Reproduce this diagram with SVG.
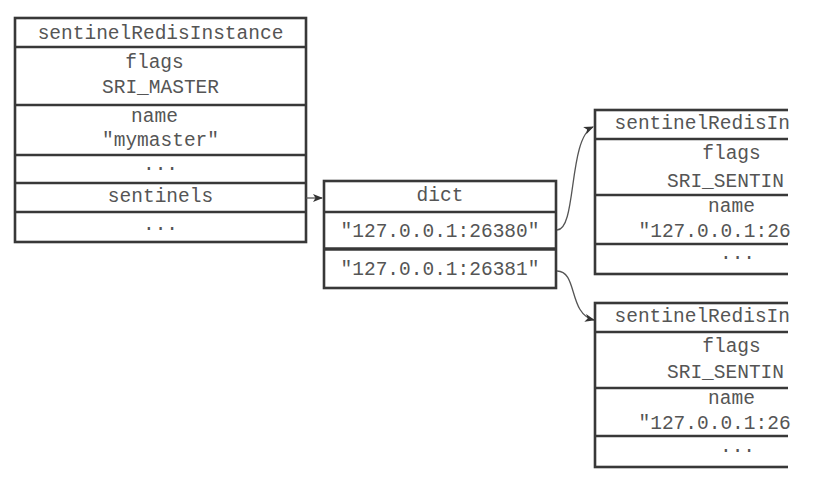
<svg xmlns="http://www.w3.org/2000/svg" width="824" height="504" viewBox="0 0 824 504">
<style>
.box{fill:#fff;stroke:#383838;stroke-width:2.6}
.sep{stroke:#383838;stroke-width:2.6}
.t{font-family:"Liberation Mono","Courier New",monospace;font-size:19.5px;fill:#555;text-anchor:middle}
.s{text-anchor:start}
.conn{fill:none;stroke:#555;stroke-width:1.3}
</style>
<defs>
<marker id="ah" viewBox="0 0 10 10" refX="9" refY="5" markerWidth="10" markerHeight="10" markerUnits="userSpaceOnUse" orient="auto">
<path d="M0,1 L10,5 L0,9 L2.5,5 Z" fill="#333"/>
</marker>
<clipPath id="crop"><rect x="0" y="0" width="788" height="504"/></clipPath>
</defs>
<rect width="824" height="504" fill="#fff"/>

<g id="master">
<rect class="box" x="15" y="18" width="291" height="224"/>
<line class="sep" x1="15" y1="47" x2="306" y2="47"/>
<line class="sep" x1="15" y1="105" x2="306" y2="105"/>
<line class="sep" x1="15" y1="155" x2="306" y2="155"/>
<line class="sep" x1="15" y1="183" x2="306" y2="183"/>
<line class="sep" x1="15" y1="212" x2="306" y2="212"/>
<text class="t" x="160.5" y="39">sentinelRedisInstance</text>
<text class="t" x="154.5" y="68">flags</text>
<text class="t" x="160.5" y="93">SRI_MASTER</text>
<text class="t" x="154.5" y="122">name</text>
<text class="t" x="160.5" y="146">"mymaster"</text>
<text class="t" x="160.5" y="170">...</text>
<text class="t" x="160.5" y="202">sentinels</text>
<text class="t" x="160.5" y="230">...</text>
</g>

<g id="dict">
<rect class="box" x="324" y="181" width="232" height="107"/>
<line class="sep" x1="324" y1="212" x2="556" y2="212"/>
<line class="sep" x1="324" y1="249" x2="556" y2="249" style="stroke-width:3.6"/>
<text class="t" x="440" y="201">dict</text>
<text class="t" x="440" y="237">"127.0.0.1:26380"</text>
<text class="t" x="440" y="275">"127.0.0.1:26381"</text>
</g>

<g id="sentinel1">
<g clip-path="url(#crop)">
<rect class="box" x="595" y="110" width="285" height="164"/>
<line class="sep" x1="595" y1="139" x2="880" y2="139"/>
<line class="sep" x1="595" y1="195" x2="880" y2="195"/>
<line class="sep" x1="595" y1="244" x2="880" y2="244"/>
</g>
<text class="t s" x="614.5" y="129">sentinelRedisIn</text>
<text class="t" x="731.5" y="159">flags</text>
<text class="t s" x="667" y="187">SRI_SENTIN</text>
<text class="t" x="731.5" y="212">name</text>
<text class="t s" x="638.5" y="237">"127.0.0.1:26</text>
<text class="t" x="737.5" y="259">...</text>
</g>

<g id="sentinel2">
<g clip-path="url(#crop)">
<rect class="box" x="595" y="303" width="285" height="164"/>
<line class="sep" x1="595" y1="332" x2="880" y2="332"/>
<line class="sep" x1="595" y1="388" x2="880" y2="388"/>
<line class="sep" x1="595" y1="436" x2="880" y2="436"/>
</g>
<text class="t s" x="614.5" y="322">sentinelRedisIn</text>
<text class="t" x="731.5" y="352">flags</text>
<text class="t s" x="667" y="378">SRI_SENTIN</text>
<text class="t" x="731.5" y="404">name</text>
<text class="t s" x="638.5" y="429">"127.0.0.1:26</text>
<text class="t" x="737.5" y="452">...</text>
</g>

<g id="connectors">
<path class="conn" d="M306,198 L322,198" marker-end="url(#ah)"/>
<path class="conn" d="M557,230 C577,230 568,138 593,127" marker-end="url(#ah)"/>
<path class="conn" d="M557,271 C578,271 568,314 594,320" marker-end="url(#ah)"/>
</g>
</svg>
